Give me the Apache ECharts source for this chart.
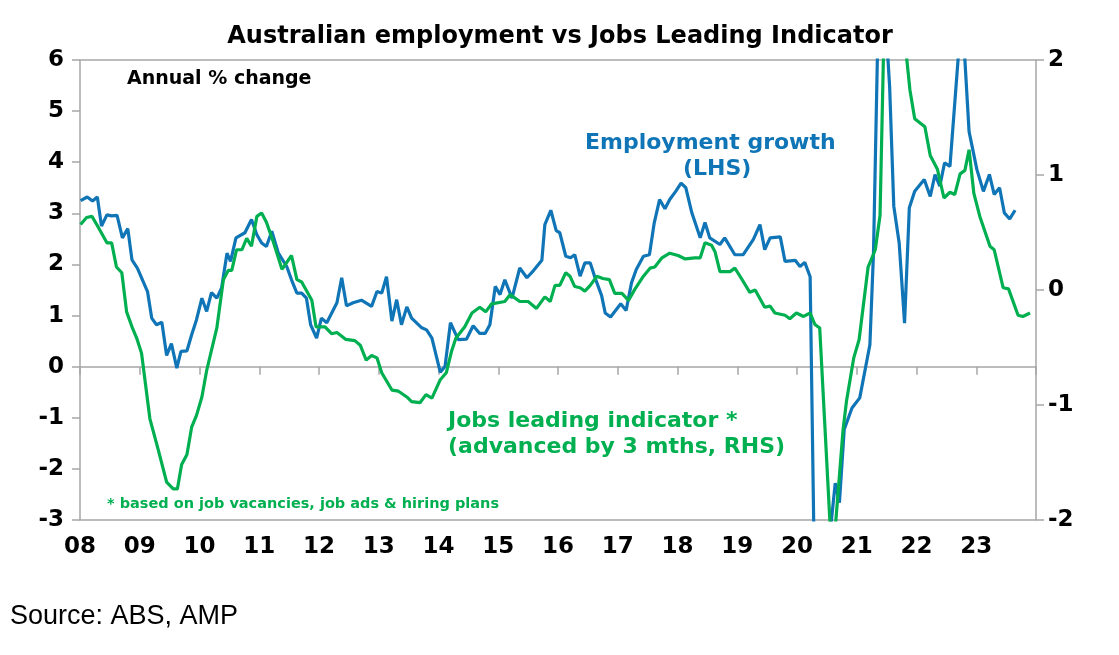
<!DOCTYPE html>
<html>
<head>
<meta charset="utf-8">
<script src="https://cdn.jsdelivr.net/npm/echarts@6/dist/echarts.min.js"></script>
<style>
  html, body { margin: 0; padding: 0; background: #fff; }
  #chart { width: 1119px; height: 655px; }
</style>
</head>
<body>
<div id="chart"></div>
<script>
// x values are years since Jan 2008
const empYears = [0.01,0.12,0.21,0.29,0.36,0.45,0.53,0.62,0.71,0.80,0.87,0.96,1.13,1.20,1.28,1.37,1.45,1.53,1.62,1.69,1.79,1.87,1.95,2.04,2.12,2.20,2.29,2.37,2.46,2.52,2.61,2.76,2.87,2.96,3.04,3.12,3.21,3.32,3.46,3.54,3.63,3.71,3.79,3.86,3.96,4.04,4.13,4.30,4.38,4.46,4.57,4.71,4.88,4.97,5.05,5.13,5.22,5.30,5.38,5.47,5.55,5.72,5.80,5.89,6.03,6.11,6.20,6.33,6.47,6.58,6.69,6.78,6.86,6.95,7.03,7.11,7.23,7.36,7.48,7.59,7.73,7.78,7.88,7.97,8.03,8.13,8.21,8.28,8.37,8.45,8.54,8.62,8.73,8.79,8.88,9.05,9.14,9.23,9.31,9.43,9.53,9.61,9.70,9.79,9.87,9.97,10.06,10.14,10.24,10.38,10.46,10.54,10.71,10.79,10.96,11.10,11.27,11.38,11.46,11.55,11.72,11.80,11.97,12.05,12.13,12.22,12.32,12.42,12.55,12.64,12.71,12.79,12.92,13.05,13.22,13.28,13.37,13.47,13.55,13.62,13.71,13.80,13.88,13.97,14.13,14.23,14.31,14.39,14.47,14.56,14.76,14.88,15.01,15.12,15.22,15.30,15.39,15.47,15.56,15.65];
const empValues = [3.25,3.32,3.24,3.32,2.75,2.97,2.95,2.96,2.52,2.70,2.09,1.93,1.47,0.95,0.82,0.87,0.22,0.45,-0.03,0.30,0.31,0.63,0.92,1.34,1.08,1.45,1.34,1.54,2.22,2.06,2.52,2.62,2.88,2.58,2.42,2.35,2.65,2.22,1.96,1.70,1.44,1.44,1.34,0.82,0.56,0.95,0.86,1.25,1.74,1.19,1.25,1.30,1.18,1.47,1.44,1.76,0.89,1.31,0.82,1.17,0.95,0.76,0.72,0.56,-0.11,0.01,0.86,0.53,0.54,0.80,0.65,0.65,0.82,1.57,1.41,1.70,1.34,1.93,1.74,1.88,2.08,2.78,3.06,2.66,2.62,2.16,2.13,2.19,1.77,2.03,2.03,1.74,1.39,1.05,0.97,1.23,1.10,1.64,1.90,2.16,2.19,2.81,3.27,3.09,3.27,3.43,3.59,3.50,3.01,2.52,2.82,2.52,2.39,2.52,2.19,2.19,2.49,2.78,2.29,2.52,2.54,2.06,2.08,1.96,2.04,1.76,-6.3,-6.5,-3.3,-2.28,-2.66,-1.23,-0.81,-0.61,0.43,2.22,7.5,7.0,5.49,3.14,2.42,0.85,3.11,3.43,3.66,3.33,3.76,3.53,3.99,3.92,7.0,4.60,3.86,3.43,3.76,3.37,3.50,3.01,2.89,3.06];

const jliYears = [0.01,0.11,0.20,0.28,0.45,0.53,0.61,0.70,0.78,0.87,0.95,1.03,1.17,1.31,1.45,1.56,1.63,1.70,1.79,1.87,1.95,2.04,2.12,2.29,2.40,2.48,2.54,2.62,2.71,2.79,2.87,2.96,3.04,3.12,3.24,3.38,3.54,3.63,3.71,3.88,3.95,4.10,4.21,4.30,4.45,4.60,4.69,4.79,4.88,4.97,5.05,5.22,5.33,5.47,5.55,5.69,5.79,5.89,6.03,6.13,6.22,6.29,6.44,6.56,6.69,6.79,6.89,7.11,7.20,7.36,7.50,7.64,7.78,7.87,7.95,8.03,8.13,8.20,8.28,8.37,8.45,8.54,8.65,8.75,8.86,8.95,9.07,9.18,9.29,9.43,9.54,9.62,9.74,9.87,10.01,10.13,10.29,10.38,10.46,10.57,10.63,10.71,10.88,10.96,11.07,11.21,11.30,11.46,11.55,11.63,11.80,11.88,11.99,12.11,12.22,12.30,12.38,12.59,12.77,12.83,12.95,13.04,13.19,13.31,13.39,13.47,13.72,13.89,13.97,14.14,14.23,14.35,14.46,14.56,14.64,14.73,14.81,14.88,14.96,15.06,15.23,15.30,15.45,15.54,15.70,15.78,15.90];
const jliValues = [0.57,0.63,0.64,0.57,0.41,0.41,0.20,0.15,-0.19,-0.32,-0.42,-0.55,-1.12,-1.39,-1.67,-1.73,-1.73,-1.52,-1.43,-1.19,-1.09,-0.93,-0.70,-0.33,0.09,0.17,0.17,0.35,0.35,0.45,0.38,0.64,0.67,0.59,0.41,0.18,0.30,0.09,0.07,-0.09,-0.32,-0.32,-0.38,-0.37,-0.43,-0.44,-0.48,-0.61,-0.57,-0.59,-0.72,-0.87,-0.88,-0.93,-0.97,-0.98,-0.91,-0.94,-0.78,-0.72,-0.53,-0.42,-0.32,-0.20,-0.15,-0.19,-0.12,-0.10,-0.04,-0.10,-0.10,-0.16,-0.06,-0.10,0.04,0.04,0.15,0.12,0.03,0.02,-0.01,0.04,0.12,0.10,0.09,-0.03,-0.03,-0.09,0.01,0.12,0.19,0.20,0.28,0.32,0.30,0.27,0.28,0.28,0.41,0.39,0.33,0.16,0.16,0.19,0.10,-0.02,0.00,-0.15,-0.14,-0.20,-0.22,-0.25,-0.20,-0.23,-0.20,-0.30,-0.33,-2.4,-1.22,-0.96,-0.59,-0.43,0.20,0.35,0.65,2.6,2.6,1.74,1.49,1.42,1.17,1.05,0.80,0.85,0.83,1.01,1.04,1.22,0.84,0.64,0.38,0.35,0.02,0.01,-0.22,-0.23,-0.20];

const startYear = 2008;
const font = '"DejaVu Sans", Arial, sans-serif';
const blue = '#0f75b6';
const green = '#00b050';
const grey = '#a6a6a6';

const pairs = (xs, ys) => xs.map((x, i) => [x, ys[i]]);
const tick = { show: true, length: 8, lineStyle: { color: grey, width: 1.5 } };
const tickLabel = { fontSize: 23, fontWeight: 'bold', color: '#000', fontFamily: font };

const chart = echarts.init(document.getElementById('chart'));
chart.setOption({
  animation: false,
  textStyle: { fontFamily: font },
  title: {
    text: 'Australian employment vs Jobs Leading Indicator',
    left: 555, top: 20, textAlign: 'center',
    textStyle: { fontSize: 24, fontWeight: 'bold', color: '#000', fontFamily: font }
  },
  grid: { left: 80, right: 83, top: 60, bottom: 135, show: true, borderColor: grey, borderWidth: 1.5 },
  xAxis: [{
    type: 'value', min: 0, max: 16, interval: 1,
    axisLine: { onZero: true, lineStyle: { color: grey, width: 1.5 } },
    axisTick: tick,
    axisLabel: { show: false },
    splitLine: { show: false }
  }, {
    type: 'value', min: 0, max: 16, interval: 1, position: 'bottom',
    axisLine: { onZero: false, show: false },
    axisTick: { show: false },
    splitLine: { show: false },
    axisLabel: Object.assign({ margin: 16, formatter: v => v >= 16 ? '' : String(startYear + v).slice(2) }, tickLabel)
  }],
  yAxis: [{
    type: 'value', min: -3, max: 6, interval: 1, position: 'left',
    axisLine: { show: false, onZero: false },
    axisTick: tick,
    splitLine: { show: false },
    axisLabel: Object.assign({ margin: 16 }, tickLabel)
  }, {
    type: 'value', min: -2, max: 2, interval: 1, position: 'right',
    axisLine: { show: false, onZero: false },
    axisTick: tick,
    splitLine: { show: false },
    axisLabel: Object.assign({ margin: 12 }, tickLabel)
  }],
  series: [{
    name: 'Employment growth (LHS)', type: 'line', yAxisIndex: 0,
    data: pairs(empYears, empValues), showSymbol: false, clip: true,
    lineStyle: { color: blue, width: 3.2 }, z: 3
  }, {
    name: 'Jobs leading indicator', type: 'line', yAxisIndex: 1,
    data: pairs(jliYears, jliValues), showSymbol: false, clip: true,
    lineStyle: { color: green, width: 3.2 }, z: 4
  }],
  graphic: [
    { type: 'text', left: 127, top: 70, style: { text: 'Annual % change', font: 'bold 19px ' + font, fill: '#000' } },
    { type: 'text', left: 585, top: 132, style: { text: 'Employment growth', font: 'bold 22px ' + font, fill: blue } },
    { type: 'text', left: 683, top: 158, style: { text: '(LHS)', font: 'bold 22px ' + font, fill: blue } },
    { type: 'text', left: 448, top: 410, style: { text: 'Jobs leading indicator *', font: 'bold 22px ' + font, fill: green } },
    { type: 'text', left: 448, top: 436, style: { text: '(advanced by 3 mths, RHS)', font: 'bold 22px ' + font, fill: green } },
    { type: 'text', left: 107, top: 497, style: { text: '* based on job vacancies, job ads & hiring plans', font: 'bold 14.5px ' + font, fill: green } },
    { type: 'text', left: 10, top: 603, style: { text: 'Source: ABS, AMP', font: '27px Arial, "Liberation Sans", sans-serif', fill: '#000' } }
  ]
});
</script>
</body>
</html>
